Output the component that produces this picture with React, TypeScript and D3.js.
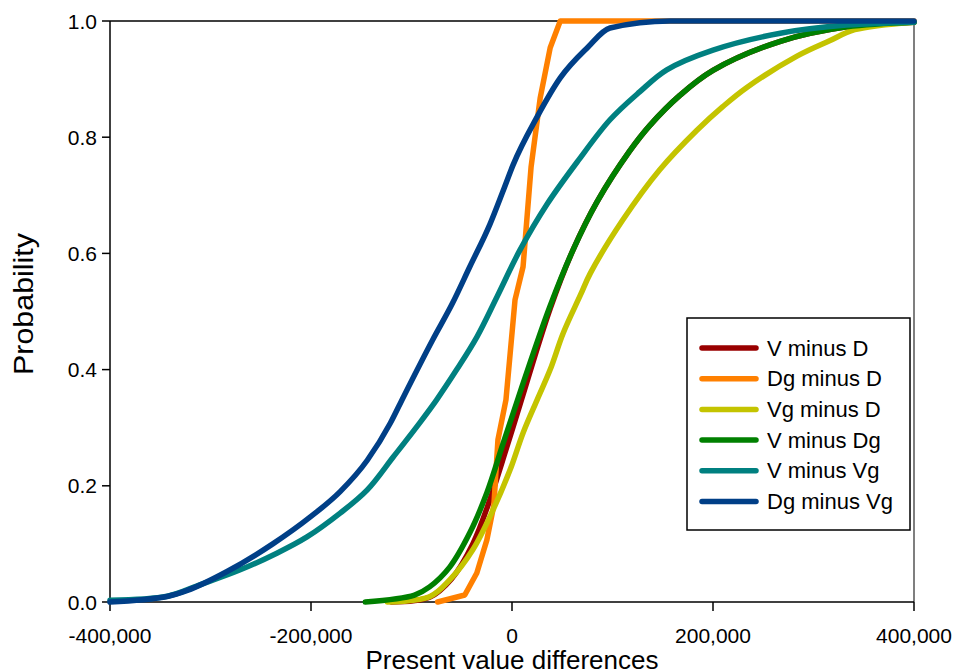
import React from "react";
import * as d3 from "d3";

const xTicks = [-400000, -200000, 0, 200000, 400000];
const yTicks = [0, 0.2, 0.4, 0.6, 0.8, 1.0];

const seriesNames = ["V minus D", "Dg minus D", "Vg minus D", "V minus Dg", "V minus Vg", "Dg minus Vg"];
const seriesColors = ["#990000", "#FF8000", "#C4C400", "#008000", "#008080", "#003F87"];

const vMinusD_x = [-120000, -82000, -60000, -39000, -22000, -6000, 8000, 38000, 61000, 85000, 117000, 137000, 167000, 200000, 267000, 333000, 400000];
const vMinusD_y = [0, 0.008, 0.04, 0.1, 0.176, 0.262, 0.34, 0.505, 0.607, 0.69, 0.776, 0.82, 0.872, 0.915, 0.965, 0.99, 0.998];

const dgMinusD_x = [-74000, -47000, -35000, -25000, -18000, -14000, -6000, 3000, 11000, 19000, 28000, 38000, 48000, 400000];
const dgMinusD_y = [0, 0.012, 0.05, 0.107, 0.167, 0.279, 0.348, 0.52, 0.577, 0.749, 0.867, 0.954, 1.0, 1.0];

const vgMinusD_x = [-124000, -82000, -62000, -39000, -19000, -2000, 11000, 25000, 38000, 51000, 68000, 78000, 110000, 147000, 184000, 210000, 234000, 284000, 316000, 341000, 400000];
const vgMinusD_y = [0, 0.009, 0.038, 0.09, 0.158, 0.227, 0.291, 0.348, 0.4, 0.463, 0.528, 0.566, 0.657, 0.744, 0.812, 0.853, 0.886, 0.94, 0.966, 0.985, 0.998];

const vMinusDg_x = [-146000, -97000, -82000, -62000, -42000, -25000, -9000, 5000, 18000, 38000, 61000, 85000, 117000, 137000, 167000, 200000, 267000, 333000, 400000];
const vMinusDg_y = [0, 0.012, 0.026, 0.06, 0.119, 0.188, 0.272, 0.345, 0.412, 0.51, 0.607, 0.69, 0.776, 0.82, 0.872, 0.915, 0.965, 0.99, 0.998];

const vMinusVg_x = [-400000, -343000, -310000, -271000, -234000, -204000, -171000, -144000, -118000, -92000, -75000, -55000, -35000, -15000, 8000, 35000, 66000, 97500, 127000, 154000, 200000, 267000, 333000, 400000];
const vMinusVg_y = [0.003, 0.01, 0.03, 0.055, 0.084, 0.112, 0.153, 0.193, 0.25, 0.308, 0.348, 0.4, 0.456, 0.525, 0.606, 0.685, 0.76, 0.83, 0.878, 0.916, 0.95, 0.979, 0.993, 0.998];

const dgMinusVg_x = [-400000, -342000, -323000, -284000, -238000, -201000, -171000, -144000, -121000, -108000, -79000, -59000, -42000, -22000, -9000, 1000, 25000, 48000, 75000, 97500, 157000, 400000];
const dgMinusVg_y = [0, 0.01, 0.02, 0.052, 0.1, 0.146, 0.19, 0.244, 0.308, 0.353, 0.451, 0.515, 0.577, 0.65, 0.707, 0.752, 0.835, 0.902, 0.954, 0.988, 1.0, 1.0];

const seriesX = [vMinusD_x, dgMinusD_x, vgMinusD_x, vMinusDg_x, vMinusVg_x, dgMinusVg_x];
const seriesY = [vMinusD_y, dgMinusD_y, vgMinusD_y, vMinusDg_y, vMinusVg_y, dgMinusVg_y];

const W = 955;
const H = 670;
const left = 110, right = 914, top = 21, bottom = 602;
const FONT = "Arial, 'Liberation Sans', sans-serif";

export default function App() {
  const x = d3.scaleLinear().domain([-400000, 400000]).range([left, right]);
  const y = d3.scaleLinear().domain([0, 1]).range([bottom, top]);
  const fmt = (v: number) => d3.format(",")(v).replace("\u2212", "-");

  const curves = [
    d3.curveCatmullRom.alpha(0.5),
    d3.curveLinear,
    d3.curveCatmullRom.alpha(0.5),
    d3.curveCatmullRom.alpha(0.5),
    d3.curveCatmullRom.alpha(0.5),
    d3.curveMonotoneX,
  ];

  const lines = seriesNames.map((name, i) => {
    const pts: [number, number][] = seriesX[i].map((v, j) => [v, seriesY[i][j]]);
    const gen = d3
      .line<[number, number]>()
      .x((d) => x(d[0]))
      .y((d) => y(d[1]))
      .curve(curves[i]);
    return { name, color: seriesColors[i], d: gen(pts) || "" };
  });

  const legX = 687, legY = 318, legW = 223, legH = 212;
  const rowY0 = 348, rowStep = 30.7;

  return (
    <svg width={W} height={H} style={{ position: "absolute", left: 0, top: 0, background: "#fff" }} fontFamily={FONT}>
      <rect x={0} y={0} width={W} height={H} fill="#fff" />
      <line x1={left} y1={top} x2={right} y2={top} stroke="#000" strokeWidth={1.5} />
      <line x1={right} y1={top} x2={right} y2={bottom} stroke="#555" strokeWidth={1.5} />
      <line x1={left} y1={top} x2={left} y2={bottom} stroke="#000" strokeWidth={1.5} />
      {yTicks.map((t) => (
        <g key={"y" + t}>
          <line x1={left - 8} x2={left} y1={y(t)} y2={y(t)} stroke="#000" strokeWidth={1.5} />
          <text x={97} y={y(t) + 7.5} textAnchor="end" fontSize={21} fill="#000">
            {t.toFixed(1)}
          </text>
        </g>
      ))}
      <line x1={left} y1={bottom} x2={right} y2={bottom} stroke="#000" strokeWidth={1.5} />
      {xTicks.map((t) => (
        <g key={"x" + t}>
          <line x1={x(t)} x2={x(t)} y1={bottom} y2={bottom + 9} stroke="#000" strokeWidth={1.5} />
          <text x={x(t)} y={643} textAnchor="middle" fontSize={21} fill="#000">
            {fmt(t)}
          </text>
        </g>
      ))}
      {lines.map((l) => (
        <path key={l.name} d={l.d} fill="none" stroke={l.color} strokeWidth={5.5} strokeLinejoin="round" strokeLinecap="round" />
      ))}
      <text x={512} y={669} textAnchor="middle" fontSize={26} fill="#000">
        Present value differences
      </text>
      <text
        transform={`translate(33,${304}) rotate(-90)`}
        textAnchor="middle"
        fontSize={27}
        textLength={142}
        lengthAdjust="spacingAndGlyphs"
        fill="#000"
      >
        Probability
      </text>
      <rect x={legX} y={legY} width={legW} height={legH} fill="#fff" stroke="#000" strokeWidth={1.5} />
      {lines.map((l, i) => (
        <g key={"leg" + l.name}>
          <line x1={702} x2={756} y1={rowY0 + i * rowStep} y2={rowY0 + i * rowStep} stroke={l.color} strokeWidth={5.5} strokeLinecap="round" />
          <text x={767} y={rowY0 + i * rowStep + 7.5} fontSize={22} fill="#000">
            {l.name}
          </text>
        </g>
      ))}
    </svg>
  );
}
